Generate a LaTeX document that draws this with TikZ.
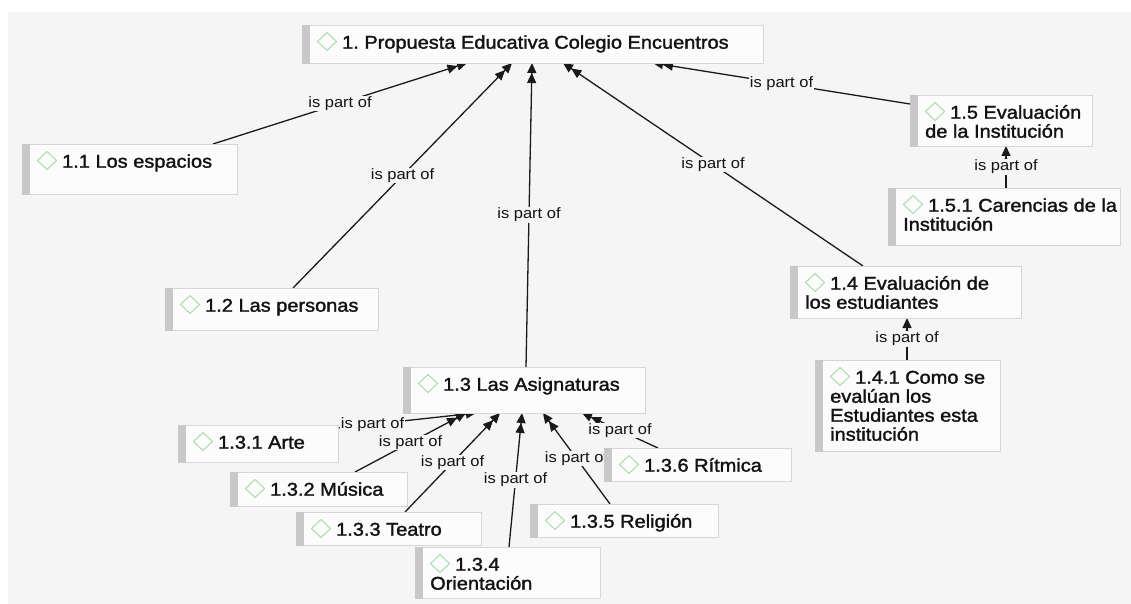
\documentclass[tikz,border=0pt]{standalone}
\usepackage{fontspec}
\setmainfont{Liberation Sans}[FakeStretch=1.1]
\newfontfamily\cmnodefont{Liberation Sans}[FakeStretch=1.08, FakeBold=1.6]
\usetikzlibrary{arrows.meta}
\definecolor{bgc}{HTML}{F5F5F5}
\definecolor{boxc}{HTML}{FCFCFC}
\definecolor{borderc}{HTML}{D6D6D6}
\definecolor{barc}{HTML}{C8C8C8}
\definecolor{diac}{HTML}{A6D8A6}
\definecolor{txtc}{HTML}{121212}
\definecolor{linec}{HTML}{1A1A1A}
\pgfdeclarelayer{bgl}
\pgfdeclarelayer{edgel}
\pgfsetlayers{bgl,edgel,main}
\tikzset{
  cbox/.style={draw=borderc, fill=boxc, line width=0.8pt, rectangle, inner sep=0pt, anchor=north west},
  ctext/.style={anchor=north west, inner sep=0pt, text=txtc, align=left, font=\cmnodefont\fontsize{18.5}{19}\selectfont},
  cbar/.style={fill=barc},
  cdia/.style={draw=diac, line width=0.9pt},
  rel/.style={draw=linec, line width=1.3pt, -{Triangle[length=10pt,width=9pt]Triangle[length=10pt,width=9pt]}},
  rlab/.style={fill=bgc, inner sep=1pt, text=txtc, font=\fontsize{15}{16}\selectfont},
}
\newcommand\cmbox[6]{%
  \node[cbox, minimum width=#4pt, minimum height=#5pt] (#1) at (#2,#3) {};
  \fill[cbar] (#1.north west) rectangle ([xshift=8pt]#1.south west);
  \draw[cdia] ([shift={(25,16.5)}]#1.north west) +(-9.5,0) -- +(0,-9) -- +(9.5,0) -- +(0,9) -- cycle;
  \node[ctext] (#1-t) at ([shift={(15,8.5)}]#1.north west) {\rule{0pt}{15pt}\hspace*{25pt}#6};
}
\begin{document}
\frenchspacing
\begin{tikzpicture}[x=1pt,y=-1pt]
\useasboundingbox (0,0) rectangle (1131,604);
\begin{pgfonlayer}{bgl}
  \fill[white] (0,0) rectangle (1131,604);
  \fill[bgc] (8,12) rectangle (1131,604);
\end{pgfonlayer}

\cmbox{top}{302}{25}{461}{38}{1. Propuesta Educativa Colegio Encuentros}
\cmbox{s11}{22}{144}{215}{50}{1.1 Los espacios}
\cmbox{s12}{165}{288}{213}{42}{1.2 Las personas}
\cmbox{s13}{403}{367}{242}{46}{1.3 Las Asignaturas}
\cmbox{s131}{178}{425}{160}{37}{1.3.1 Arte}
\cmbox{s132}{230}{472}{177}{34}{1.3.2 Música}
\cmbox{s133}{296}{512}{185}{33}{1.3.3 Teatro}
\cmbox{s134}{415}{547}{185}{51}{1.3.4\\Orientación}
\cmbox{s135}{530}{504}{188}{33}{1.3.5 Religión}
\cmbox{s136}{604}{448}{187}{33}{1.3.6 Rítmica}
\cmbox{s14}{790}{266}{231}{52}{1.4 Evaluación de\\los estudiantes}
\cmbox{s141}{815}{360}{185}{91}{1.4.1 Como se\\evalúan los\\Estudiantes esta\\institución}
\cmbox{s15}{910}{95}{182}{51}{1.5 Evaluación\\de la Institución}
\cmbox{s151}{888}{188}{232}{57}{1.5.1 Carencias de la\\Institución}

\begin{pgfonlayer}{edgel}
\draw[rel] ([shift={(191,0)}]s11.north west) -- node[rlab]{is part of} ([shift={(165,38)}]top.north west);
\draw[rel] ([shift={(128,0)}]s12.north west) -- node[rlab]{is part of} ([shift={(210,38)}]top.north west);
\draw[rel] ([shift={(123,0)}]s13.north west) -- node[rlab]{is part of} ([shift={(230,38)}]top.north west);
\draw[rel] ([shift={(73,0)}]s14.north west) -- node[rlab]{is part of} ([shift={(261,38)}]top.north west);
\draw[rel] ([shift={(0,9)}]s15.north west) -- node[rlab]{is part of} ([shift={(351,38)}]top.north west);
\draw[rel] ([shift={(118,0)}]s151.north west) -- node[rlab]{is part of} ([shift={(96,51)}]s15.north west);
\draw[rel] ([shift={(92,0)}]s141.north west) -- node[rlab]{is part of} ([shift={(117,52)}]s14.north west);
\draw[rel] ([shift={(160,3)}]s131.north west) -- node[rlab,pos=0.25]{is part of} ([shift={(73,46)}]s13.north west);
\draw[rel] ([shift={(125,0)}]s132.north west) -- node[rlab]{is part of} ([shift={(63,46)}]s13.north west);
\draw[rel] ([shift={(109,0)}]s133.north west) -- node[rlab]{is part of} ([shift={(97,46)}]s13.north west);
\draw[rel] ([shift={(94,0)}]s134.north west) -- node[rlab]{is part of} ([shift={(119,46)}]s13.north west);
\draw[rel] ([shift={(80,0)}]s135.north west) -- node[rlab]{is part of} ([shift={(140,46)}]s13.north west);
\draw[rel] ([shift={(54,0)}]s136.north west) -- node[rlab]{is part of} ([shift={(179,46)}]s13.north west);
\end{pgfonlayer}
\end{tikzpicture}
\end{document}
